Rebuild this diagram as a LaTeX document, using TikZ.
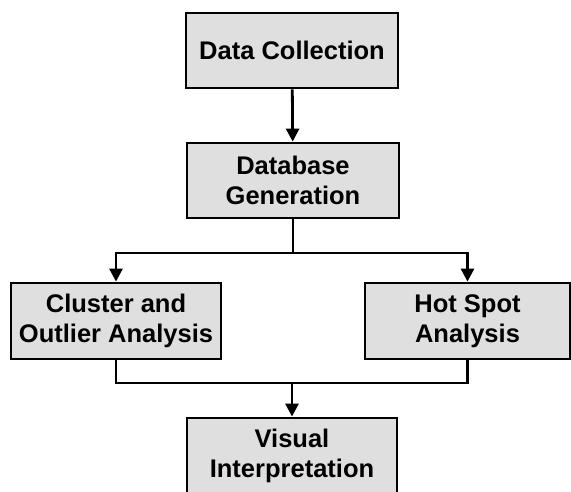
\documentclass[tikz,border=0pt]{standalone}
\usepackage{fontspec}
\setmainfont{Liberation Sans}
\usetikzlibrary{arrows.meta}
\begin{document}
\begin{tikzpicture}[x=1pt,y=-1pt,
  stagebox/.style={draw=black, line width=2.8pt, fill=gray!25, inner sep=0pt,
    align=center, font=\fontsize{25.5}{30}\selectfont\bfseries},
  flow/.style={line width=2.8pt, -{Triangle[width=13pt,length=13pt]}},
  link/.style={line width=2.8pt}]
\useasboundingbox (0,0) rectangle (571,492);
\clip (0,0) rectangle (571,492);
\fill[white] (0,0) rectangle (571,492);

\node[stagebox, minimum width=212pt, minimum height=75pt] (dc) at (292,50.5) {Data Collection};
\node[stagebox, minimum width=212pt, minimum height=75pt] (db) at (293,180.5) {Database\\Generation};
\node[stagebox, minimum width=210pt, minimum height=76pt] (coa) at (116,321) {Cluster and\\Outlier Analysis};
\node[stagebox, minimum width=205pt, minimum height=76pt] (hsa) at (467.5,321) {Hot Spot\\Analysis};
\node[stagebox, minimum width=210pt, minimum height=76pt] (vi) at (292,456) {Visual\\Interpretation};

\coordinate (split) at (293,253);
\coordinate (merge) at (292,383);

\draw[flow] (dc) -- (db);
\draw[link] (db.south) -- (split);
\draw[flow] (split) -| (coa.north);
\draw[flow] (split) -| (hsa.north);
\draw[link] (coa.south) |- (merge);
\draw[link] (hsa.south) |- (merge);
\draw[flow] (merge) -- (vi.north);
\end{tikzpicture}
\end{document}
